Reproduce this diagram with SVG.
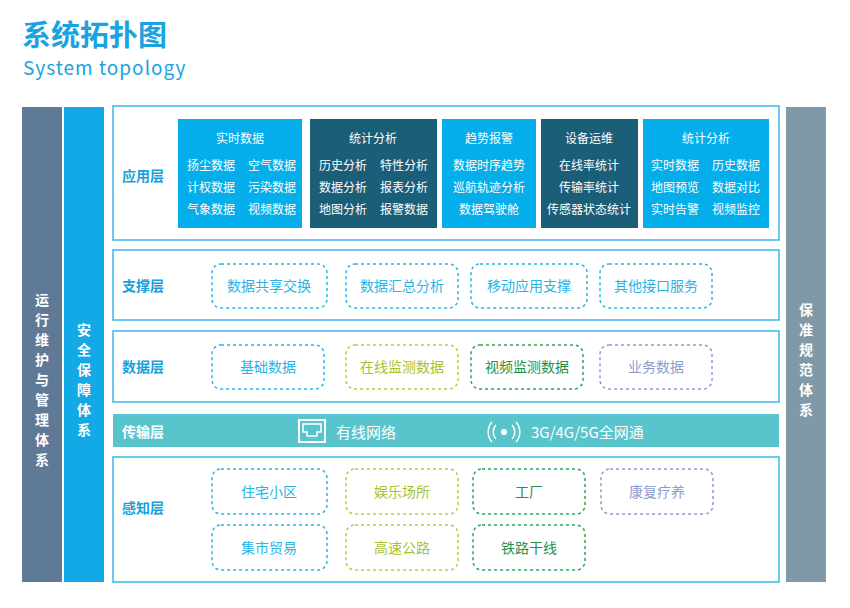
<svg xmlns="http://www.w3.org/2000/svg" width="850" height="608" viewBox="0 0 850 608">
<style>
text{font-family:"Noto Sans CJK SC","Liberation Sans",sans-serif}
.lay{fill:#fff;stroke:#3bb8e8;stroke-width:1.5}
.ll{fill:#1a9fdc;font-size:14px;font-weight:bold}
.bt{fill:#fff;font-size:12px;text-anchor:middle}
.vt{fill:#fff;font-size:14px;font-weight:bold;text-anchor:middle}
.d{fill:none;stroke-width:1.5;stroke-dasharray:3 3}
.dt{font-size:14px;text-anchor:middle}
</style>
<rect width="850" height="608" fill="#fff"/>
<text x="22" y="46" font-size="29" font-weight="bold" fill="#1aa3e0">系统拓扑图</text>
<text x="23" y="75" font-size="19" fill="#1aa3e0" letter-spacing="1">System topology</text>
<g id="bar-ops"><rect x="22" y="107" width="40" height="475" fill="#5f7a96"/>
<text class="vt"><tspan x="42" y="305">运</tspan><tspan x="42" y="325">行</tspan><tspan x="42" y="345">维</tspan><tspan x="42" y="365">护</tspan><tspan x="42" y="385">与</tspan><tspan x="42" y="405">管</tspan><tspan x="42" y="425">理</tspan><tspan x="42" y="445">体</tspan><tspan x="42" y="465">系</tspan></text></g>
<g id="bar-sec"><rect x="64" y="107" width="40" height="475" fill="#12a9e6"/>
<text class="vt"><tspan x="84" y="335">安</tspan><tspan x="84" y="355">全</tspan><tspan x="84" y="375">保</tspan><tspan x="84" y="395">障</tspan><tspan x="84" y="415">体</tspan><tspan x="84" y="435">系</tspan></text></g>
<g id="bar-std"><rect x="786" y="107" width="40" height="475" fill="#7f99a8"/>
<text class="vt"><tspan x="806" y="315">保</tspan><tspan x="806" y="335">准</tspan><tspan x="806" y="355">规</tspan><tspan x="806" y="375">范</tspan><tspan x="806" y="395">体</tspan><tspan x="806" y="415">系</tspan></text></g>
<g id="app"><rect class="lay" x="113" y="106" width="666" height="134"/>
<text class="ll" x="122" y="181">应用层</text>
<rect x="178" y="119" width="124" height="109" fill="#03aeea"/>
<text class="bt" x="240" y="143">实时数据</text>
<text class="bt"><tspan x="211" y="170">扬尘数据</tspan><tspan x="272" y="170">空气数据</tspan><tspan x="211" y="192">计权数据</tspan><tspan x="272" y="192">污染数据</tspan><tspan x="211" y="214">气象数据</tspan><tspan x="272" y="214">视频数据</tspan></text>
<rect x="310" y="119" width="127" height="109" fill="#1b5e78"/>
<text class="bt" x="373" y="143">统计分析</text>
<text class="bt"><tspan x="343" y="170">历史分析</tspan><tspan x="404" y="170">特性分析</tspan><tspan x="343" y="192">数据分析</tspan><tspan x="404" y="192">报表分析</tspan><tspan x="343" y="214">地图分析</tspan><tspan x="404" y="214">报警数据</tspan></text>
<rect x="442" y="119" width="94" height="109" fill="#03aeea"/>
<text class="bt" x="489" y="143">趋势报警</text>
<text class="bt"><tspan x="489" y="170">数据时序趋势</tspan><tspan x="489" y="192">巡航轨迹分析</tspan><tspan x="489" y="214">数据驾驶舱</tspan></text>
<rect x="541" y="119" width="97" height="109" fill="#1b5e78"/>
<text class="bt" x="589" y="143">设备运维</text>
<text class="bt"><tspan x="589" y="170">在线率统计</tspan><tspan x="589" y="192">传输率统计</tspan><tspan x="589" y="214">传感器状态统计</tspan></text>
<rect x="643" y="119" width="126" height="109" fill="#03aeea"/>
<text class="bt" x="706" y="143">统计分析</text>
<text class="bt"><tspan x="675" y="170">实时数据</tspan><tspan x="736" y="170">历史数据</tspan><tspan x="675" y="192">地图预览</tspan><tspan x="736" y="192">数据对比</tspan><tspan x="675" y="214">实时告警</tspan><tspan x="736" y="214">视频监控</tspan></text></g>
<g id="support"><rect class="lay" x="113" y="250" width="666" height="70"/>
<text class="ll" x="122" y="291">支撑层</text>
<g stroke="#2ab4e6" class="d"><rect class="d" x="212" y="264" width="115" height="44" rx="9"/><rect class="d" x="346" y="264" width="112" height="44" rx="9"/><rect class="d" x="471" y="264" width="116" height="44" rx="9"/><rect class="d" x="600" y="264" width="112" height="44" rx="9"/></g>
<text class="dt" fill="#2ab4e6" font-size="15"><tspan x="269" y="291">数据共享交换</tspan><tspan x="402" y="291">数据汇总分析</tspan><tspan x="529" y="291">移动应用支撑</tspan><tspan x="656" y="291">其他接口服务</tspan></text></g>
<g id="data"><rect class="lay" x="113" y="331" width="666" height="71"/>
<text class="ll" x="122" y="372">数据层</text>
<rect class="d" stroke="#2ab4e6" x="212" y="345" width="112" height="44" rx="9"/>
<rect class="d" stroke="#b3cf3a" x="346" y="345" width="112" height="44" rx="9"/>
<rect class="d" stroke="#2ea556" x="471" y="345" width="112" height="44" rx="9"/>
<rect class="d" stroke="#8e9bd0" x="600" y="345" width="112" height="44" rx="9"/>
<text class="dt" x="268" y="372" fill="#2ab4e6">基础数据</text>
<text class="dt" x="402" y="372" fill="#a6c232">在线监测数据</text>
<text class="dt" x="527" y="372" fill="#2a8f48">视频监测数据</text>
<text class="dt" x="656" y="372" fill="#8e9bd0">业务数据</text></g>
<g id="trans"><rect x="113" y="414" width="666" height="33" fill="#58c5cd"/>
<text x="122" y="437" font-size="14" font-weight="bold" fill="#fff">传输层</text>
<rect x="299" y="420" width="26" height="22" fill="none" stroke="#fff" stroke-width="2"/>
<path d="M303 424h18v8h-4v4h-10v-4h-4z" fill="none" stroke="#fff" stroke-width="1.5"/>
<text x="336" y="438" font-size="15" fill="#fff">有线网络</text>
<g fill="none" stroke="#fff" stroke-width="1.5"><path d="M496 425a10 10 0 0 0 0 14M492 422a15 15 0 0 0 0 20M512 425a10 10 0 0 1 0 14M516 422a15 15 0 0 1 0 20"/></g>
<circle cx="504" cy="432" r="3" fill="#fff"/>
<text x="531" y="438" font-size="15" fill="#fff">3G/4G/5G全网通</text></g>
<g id="sense"><rect class="lay" x="113" y="457" width="666" height="125"/>
<text class="ll" x="122" y="513">感知层</text>
<rect class="d" stroke="#2ab4e6" x="212" y="469" width="115" height="45" rx="9"/>
<rect class="d" stroke="#b3cf3a" x="346" y="469" width="112" height="45" rx="9"/>
<rect class="d" stroke="#2ea556" x="473" y="469" width="112" height="45" rx="9"/>
<rect class="d" stroke="#8e9bd0" x="601" y="469" width="112" height="45" rx="9"/>
<rect class="d" stroke="#2ab4e6" x="212" y="525" width="115" height="45" rx="9"/>
<rect class="d" stroke="#b3cf3a" x="346" y="525" width="112" height="45" rx="9"/>
<rect class="d" stroke="#2ea556" x="473" y="525" width="112" height="45" rx="9"/>
<text class="dt" x="269" y="497" fill="#2ab4e6">住宅小区</text>
<text class="dt" x="402" y="497" fill="#a6c232">娱乐场所</text>
<text class="dt" x="529" y="497" fill="#2a8f48">工厂</text>
<text class="dt" x="657" y="497" fill="#8e9bd0">康复疗养</text>
<text class="dt" x="269" y="553" fill="#2ab4e6">集市贸易</text>
<text class="dt" x="402" y="553" fill="#a6c232">高速公路</text>
<text class="dt" x="529" y="553" fill="#2a8f48">铁路干线</text></g>
</svg>
